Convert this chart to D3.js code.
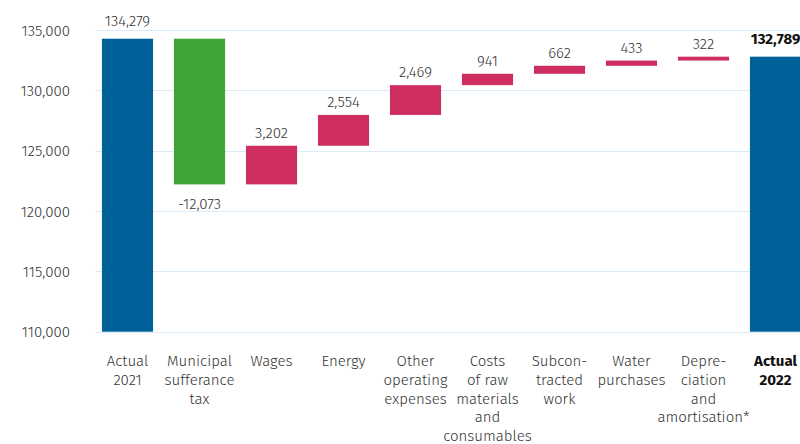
<!DOCTYPE html>
<html>
<head>
<meta charset="utf-8">
<script src="https://cdn.jsdelivr.net/npm/d3@7"></script>
<style>
  body { margin: 0; background: #fff; }
  text { font-family: "Fira Sans", "Open Sans", sans-serif; }
</style>
</head>
<body>
<script>
const width = 800, height = 444;

// waterfall data
const categories = ["Actual 2021", "Municipal sufferance tax", "Wages", "Energy",
  "Other operating expenses", "Costs of raw materials and consumables",
  "Subcontracted work", "Water purchases", "Depreciation and amortisation*", "Actual 2022"];
const labelLines = [
  ["Actual", "2021"],
  ["Municipal", "sufferance", "tax"],
  ["Wages"],
  ["Energy"],
  ["Other", "operating", "expenses"],
  ["Costs", "of raw", "materials", "and", "consumables"],
  ["Subcon-", "tracted", "work"],
  ["Water", "purchases"],
  ["Depre-", "ciation", "and", "amortisation*"],
  ["Actual", "2022"]
];
const values = [134279, -12073, 3202, 2554, 2469, 941, 662, 433, 322, 132789];
const kinds = ["total", "change", "change", "change", "change", "change", "change", "change", "change", "total"];
const yTicks = [110000, 115000, 120000, 125000, 130000, 135000];

const fmt = d3.formatLocale({decimal: ".", thousands: ",", grouping: [3], currency: ["", ""], minus: "-"}).format(",");

// running totals for the floating bars
let run = 0;
const bars = categories.map((c, i) => {
  let y0, y1;
  if (kinds[i] == "total") { y0 = 0; y1 = values[i]; run = values[i]; }
  else { y0 = run; y1 = run + values[i]; run = y1; }
  return {cat: c, v: values[i], kind: kinds[i], lo: Math.min(y0, y1), hi: Math.max(y0, y1), i: i};
});

const svg = d3.select("body").append("svg")
  .attr("width", width)
  .attr("height", height);

const x = d3.scaleBand()
  .domain(categories)
  .range([91.5, 811.5])
  .paddingInner(0.29)
  .paddingOuter(0.145);

const y = d3.scaleLinear()
  .domain([110000, 135000])
  .range([331.7, 30]);

// gridlines
svg.append("g").selectAll("line")
  .data(yTicks)
  .enter().append("line")
    .attr("x1", 95).attr("x2", width)
    .attr("y1", d => Math.round(y(d)) + 0.5)
    .attr("y2", d => Math.round(y(d)) + 0.5)
    .attr("stroke", "#dcebf8")
    .attr("stroke-width", 1);

svg.append("g").selectAll("text")
  .data(yTicks)
  .enter().append("text")
    .attr("x", 70)
    .attr("y", d => y(d) + 5.5)
    .attr("text-anchor", "end")
    .attr("font-size", 15)
    .attr("font-weight", 300)
    .attr("fill", "#333")
    .text(fmt);

const color = d => d.kind == "total" ? "#00609a" : (d.v < 0 ? "#3fa535" : "#cf2f60");

svg.append("g").selectAll("rect")
  .data(bars)
  .enter().append("rect")
    .attr("x", d => x(d.cat))
    .attr("width", x.bandwidth())
    .attr("y", d => y(Math.min(d.hi, 135000)))
    .attr("height", d => y(Math.max(d.lo, 110000)) - y(Math.min(d.hi, 135000)))
    .attr("fill", color);

// value labels
svg.append("g").selectAll("text")
  .data(bars)
  .enter().append("text")
    .attr("x", d => x(d.cat) + x.bandwidth() / 2)
    .attr("y", d => {
      if (d.kind == "total") return y(d.hi) - 13;
      if (d.v < 0) return y(d.lo) + 25;
      return y(d.hi) - 8;
    })
    .attr("text-anchor", "middle")
    .attr("font-size", 15)
    .attr("font-weight", d => d.i == categories.length - 1 ? "bold" : 300)
    .attr("fill", d => d.i == categories.length - 1 ? "#111" : "#333")
    .text(d => fmt(d.v));

// category labels
const cl = svg.append("g").selectAll("text")
  .data(bars)
  .enter().append("text")
    .attr("x", d => x(d.cat) + x.bandwidth() / 2)
    .attr("y", 366)
    .attr("text-anchor", "middle")
    .attr("font-size", 15)
    .attr("font-weight", d => d.i == categories.length - 1 ? "bold" : 300)
    .attr("fill", d => d.i == categories.length - 1 ? "#111" : "#333");

cl.selectAll("tspan")
  .data(d => labelLines[d.i].map(t => ({t: t, cx: x(d.cat) + x.bandwidth() / 2})))
  .enter().append("tspan")
    .attr("x", d => d.cx)
    .attr("dy", (d, j) => j == 0 ? 0 : 18.8)
    .text(d => d.t);
</script>
</body>
</html>
